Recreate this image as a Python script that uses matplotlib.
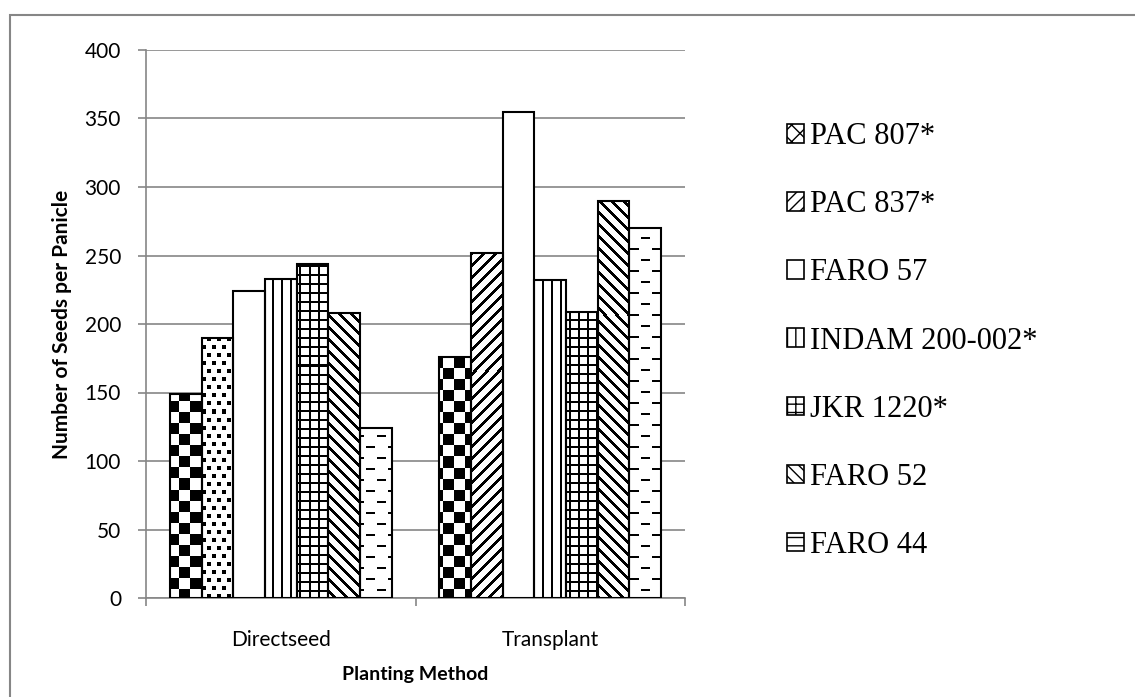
import matplotlib.pyplot as plt
from matplotlib.patches import Patch, Rectangle
import numpy as np

methods = ['Directseed', 'Transplant']
varieties = ['PAC 807*', 'PAC 837*', 'FARO 57', 'INDAM 200-002*', 'JKR 1220*', 'FARO 52', 'FARO 44']
directseed = [149, 190, 224, 233, 244, 208, 124]
transplant = [176, 252, 355, 232, 209, 290, 270]

# fill pattern of each bar (directseed, transplant) - PAC 837 differs between groups in the original
bar_patterns = [['checker', 'checker'], ['dots', 'fdiag'], [None, None], ['vert', 'vert'],
                ['grid', 'grid'], ['bdiag', 'bdiag'], ['dash', 'dash']]
legend_hatch = ['xx', '///', '', '||', '++', '\\\\\\', '--']

grey = '#868686'


def make_pattern(kind, h, w):
    # pixel pattern, row 0 = top
    r, c = np.mgrid[0:h, 0:w]
    if kind == 'checker':
        m = ((r // 11) + (c // 11)) % 2 == 0
    elif kind == 'dots':
        m = ((r % 8) < 4) & (((c + 5 * ((r // 8) % 2)) % 10) < 4)
    elif kind == 'fdiag':
        m = ((c + r) % 12) < 4
    elif kind == 'bdiag':
        m = ((c - r) % 12) < 4
    elif kind == 'vert':
        m = (c % 9) < 2
    elif kind == 'grid':
        m = ((c % 9) < 2) | ((r % 9) < 2)
    elif kind == 'dash':
        m = ((r % 11) < 2) & (((c + 11 * ((r // 11) % 2)) % 22) < 9)
    rgba = np.zeros((h, w, 4))
    rgba[m, 3] = 1.0
    return rgba


fig = plt.figure(figsize=(11.35, 6.97), dpi=100)
ax = fig.add_axes([146 / 1135, 1 - 598 / 697, 539 / 1135, 548 / 697])

x = np.arange(len(methods))
w = 0.1176
vals = np.array([directseed, transplant]).T  # rows = varieties

bb = ax.get_window_extent()
hpx, wpx = int(round(bb.height)), int(round(bb.width))
pat_cache = {}

for i, name in enumerate(varieties):
    pos = x + (i - 3) * w
    bars = ax.bar(pos, vals[i], w, color='white', edgecolor='none', zorder=2)
    for b, kind in zip(bars, bar_patterns[i]):
        if kind is None:
            continue
        if kind not in pat_cache:
            pat_cache[kind] = make_pattern(kind, hpx, wpx)
        im = ax.imshow(pat_cache[kind], extent=(-0.5, 1.5, 0, 400), origin='upper',
                       interpolation='nearest', aspect='auto', zorder=2.5)
        im.set_clip_path(b)
    ax.bar(pos, vals[i], w, fill=False, edgecolor='black', linewidth=1.5, zorder=3)

ax.set_xlim(-0.5, 1.5)
ax.set_ylim(0, 400)
ax.set_yticks(np.arange(0, 401, 50))
ax.set_xticks(x)
ax.set_xticklabels(methods)
ax.set_xticks([-0.5, 0.5, 1.5], minor=True)
ax.tick_params(axis='x', which='major', length=0, pad=23, labelsize=15)
ax.tick_params(axis='x', which='minor', length=6, width=1.2, color=grey)
ax.tick_params(axis='y', length=6, width=1.2, color=grey, pad=12, labelsize=15)
for lab in ax.get_xticklabels() + ax.get_yticklabels():
    lab.set_family('Lato')

ax.grid(axis='y', color=grey, linewidth=1.2)
ax.set_axisbelow(True)
for s in ['top', 'right']:
    ax.spines[s].set_visible(False)
for s in ['left', 'bottom']:
    ax.spines[s].set_color(grey)
    ax.spines[s].set_linewidth(1.2)

ax.set_ylabel('Number of Seeds per Panicle', fontsize=15, fontweight='bold', family='Lato')
ax.yaxis.set_label_coords(-0.138, 0.5)
ax.set_xlabel('Planting Method', fontsize=14, fontweight='bold', family='Lato')
ax.xaxis.set_label_coords(0.5, -0.124)

handles = [Patch(facecolor='white', edgecolor='black', hatch=h, linewidth=1.2) for h in legend_hatch]
fig.legend(handles, varieties, loc='center left', bbox_to_anchor=(787 / 1135, 1 - 341 / 697),
           frameon=False, prop={'family': 'Liberation Serif', 'size': 22},
           handlelength=0.56, handleheight=0.56, handletextpad=0.2, labelspacing=1.28,
           borderpad=0, borderaxespad=0)

# outer chart frame
fig.patches.append(Rectangle((9.5 / 1135, -0.1), 1.2, 1.1 - 15 / 697, transform=fig.transFigure,
                             fill=False, edgecolor=grey, linewidth=1.5))

fig.savefig('out.png', dpi=100)
